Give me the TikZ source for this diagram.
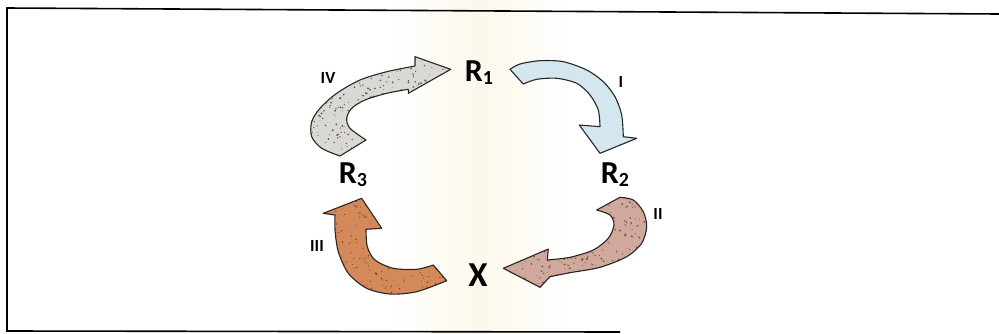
\documentclass[tikz,border=0pt]{standalone}
\usepackage{fontspec}
\setmainfont{Carlito}
\definecolor{cIV}{HTML}{DAD8D3}
\definecolor{sIV}{HTML}{55514D}
\definecolor{cI}{HTML}{D4E7F0}
\definecolor{sI}{HTML}{B8CCD6}
\definecolor{cII}{HTML}{D0A99C}
\definecolor{sII}{HTML}{6A4A40}
\definecolor{cIII}{HTML}{D4895A}
\definecolor{sIII}{HTML}{6E3E22}
\definecolor{band}{HTML}{FDF8EC}
\def\shpIV{plot[smooth] coordinates {(340,156) (321.7,148.3) (311.7,136.7) (311.7,121.7) (320,108.3) (336.7,93.3) (360,80) (386.7,71.7) (415,66)}
  -- (415,56.7) -- (450.7,69.3) -- (408.3,93.3)
  -- plot[smooth] coordinates {(408.3,89.3) (386.7,93.3) (365,100) (351.7,108.3) (346.7,118.3) (350,128.3) (366,140)} -- cycle}
\def\shpI{plot[smooth] coordinates {(510,69.3) (520,64) (540,60.7) (563.3,61.7) (586.7,70) (603.3,81.7) (615,96.7) (621.7,115) (623.3,136.7)}
  -- (636.7,138.3) -- (600,153.3) -- (579.3,125)
  -- plot[smooth] coordinates {(600,126.7) (598.3,110) (590,95) (576.7,83.3) (556.7,78.3) (536.7,79.3) (523.3,84)} -- cycle}
\def\shpII{plot[smooth] coordinates {(620,197.3) (633.3,200) (643.3,211.7) (646.7,226.7) (641.7,243.3) (626.7,256.7) (600,267.3) (570,272.7) (550,276.7)}
  -- (540,287.3) -- (503.3,268.3) -- (548.3,249)
  -- plot[smooth] coordinates {(547.3,260) (570,257.3) (593.3,250) (608.3,238.3) (614,225) (610,215) (596.7,210)} -- cycle}
\def\shpIII{plot[smooth] coordinates {(335,215) (335,230) (338.3,251.7) (348.3,273.3) (366.7,288.3) (390,294) (416.7,291.7) (446.7,280.7)}
  -- plot[smooth] coordinates {(433.3,265) (416.7,269.3) (393.3,268.3) (375,260) (367.3,246.7) (366,229.3)}
  -- (381.7,228.3) -- (361.7,198.3) -- (323.3,213.3) -- cycle}
\begin{document}
\begin{tikzpicture}[x=1pt,y=-1pt,
  lbl/.style={font=\bfseries\fontsize{32}{32}\selectfont, inner sep=0pt},
  num/.style={font=\bfseries\fontsize{17}{17}\selectfont, inner sep=0pt},
  shp/.style={draw=black!85, line width=1.1pt, line join=round}]
\useasboundingbox (0,0) rectangle (999,333);
\fill[white] (0,0) rectangle (999,333);
\shade[left color=white, right color=white, middle color=band] (385,0) rectangle (575,333);
\draw[line width=1.6pt] (999,14) -- (7,8) -- (7,331) -- (620,332);
% arrows
\pgfmathsetseed{11}
\fill[cIV] \shpIV;
\begin{scope}\clip \shpIV;
  \foreach \k in {1,...,380} {\fill[sIV] ({305+150*rnd},{52+108*rnd}) circle[radius={0.3pt+0.7pt*rnd}];}
\end{scope}
\draw[shp] \shpIV;
\fill[cI] \shpI;
\begin{scope}\clip \shpI;
  \foreach \k in {1,...,60} {\fill[sI] ({505+135*rnd},{58+98*rnd}) circle[radius={0.3pt+0.5pt*rnd}];}
\end{scope}
\draw[shp] \shpI;
\fill[cII] \shpII;
\begin{scope}\clip \shpII;
  \foreach \k in {1,...,360} {\fill[sII] ({500+150*rnd},{195+95*rnd}) circle[radius={0.3pt+0.7pt*rnd}];}
\end{scope}
\draw[shp] \shpII;
\fill[cIII] \shpIII;
\begin{scope}\clip \shpIII;
  \foreach \k in {1,...,300} {\fill[sIII] ({320+130*rnd},{195+100*rnd}) circle[radius={0.3pt+0.6pt*rnd}];}
\end{scope}
\draw[shp] \shpIII;
% labels
\node[lbl] (r1) at (479,73) {R\lower3pt\hbox{\fontsize{20}{20}\selectfont 1}};
\node[lbl] (r2) at (615,175) {R\lower3pt\hbox{\fontsize{20}{20}\selectfont 2}};
\node[lbl] (r3) at (353,175) {R\lower3pt\hbox{\fontsize{20}{20}\selectfont 3}};
\node[lbl, font=\bfseries\fontsize{35}{35}\selectfont] (x) at (478,275) {X};
\node[num] (nIV) at (328,78) {IV};
\node[num] (nI) at (621,82) {I};
\node[num] (nII) at (658,214) {II};
\node[num] (nIII) at (317,246) {III};
\end{tikzpicture}
\end{document}
